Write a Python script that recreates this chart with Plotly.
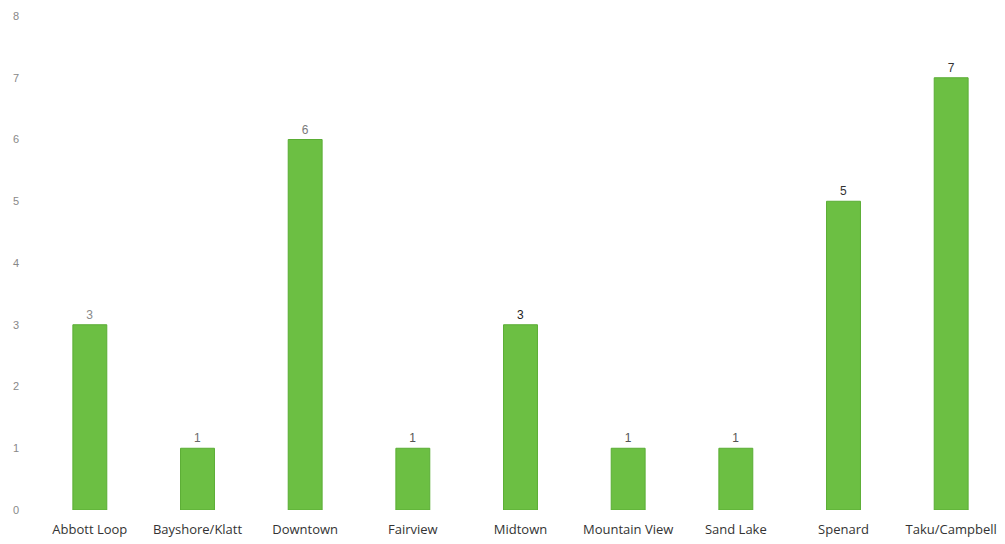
import plotly.graph_objects as go

categories = ["Abbott Loop", "Bayshore/Klatt", "Downtown", "Fairview", "Midtown",
              "Mountain View", "Sand Lake", "Spenard", "Taku/Campbell"]
values = [3, 1, 6, 1, 3, 1, 1, 5, 7]
label_colors = ["#8a8a8a", "#6a6a6a", "#7a7a7a", "#555555", "#222222",
                "#555555", "#555555", "#333333", "#333333"]
y_ticks = [0, 1, 2, 3, 4, 5, 6, 7, 8]

fig = go.Figure(go.Bar(
    x=categories, y=values,
    marker=dict(color="#6cbf43", line=dict(color="#5aad34", width=1)),
    text=[str(v) for v in values], textposition="outside",
    textfont=dict(color=label_colors, size=12, family="Liberation Sans"),
    cliponaxis=False,
    width=0.315,
))

fig.update_layout(
    width=1005, height=544,
    margin=dict(l=36, r=0, t=16, b=34),
    paper_bgcolor="white", plot_bgcolor="white",
    showlegend=False,
    font=dict(family="Open Sans", color="#333333"),
)
fig.update_xaxes(
    showgrid=False, zeroline=False, showline=False, ticks="",
    tickfont=dict(size=13, color="#333333", family="Open Sans"),
    range=[-0.5, 8.5], ticklabelstandoff=10,
)
fig.update_yaxes(
    range=[0, 8], tickvals=y_ticks, showgrid=False, zeroline=False, showline=False,
    ticks="", tickfont=dict(size=11, color="#888888", family="Liberation Sans"),
    ticklabelstandoff=16,
)

fig.write_html("out.html")
